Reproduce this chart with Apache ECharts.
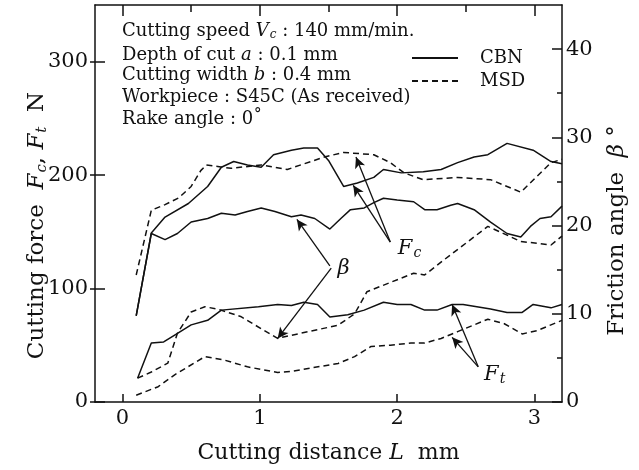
<!DOCTYPE html>
<html>
<head>
<meta charset="utf-8">
<script src="https://cdn.jsdelivr.net/npm/echarts@6/dist/echarts.min.js"></script>
<style>
  html, body { margin: 0; padding: 0; background: #fff; }
  #chart { width: 639px; height: 470px; }
</style>
</head>
<body>
<div id="chart"></div>
<script>
// [cutting distance L (mm), value]; forces in N, friction angle in degrees
const fcCbn = [[0.1, 76], [0.21, 149], [0.31, 163], [0.48, 175], [0.62, 190], [0.72, 207], [0.81, 212],
  [0.91, 209], [1.01, 207], [1.10, 218], [1.23, 222], [1.32, 224], [1.42, 224], [1.50, 213], [1.61, 190],
  [1.71, 193], [1.83, 198], [1.90, 205], [2.03, 202], [2.19, 203], [2.32, 205], [2.44, 211], [2.56, 216],
  [2.66, 218], [2.80, 228], [2.99, 222], [3.12, 212], [3.2, 210]];
const fcMsd = [[0.1, 112], [0.21, 169], [0.31, 174], [0.41, 180], [0.50, 190], [0.57, 204], [0.61, 209],
  [0.79, 206], [1.01, 209], [1.20, 205], [1.47, 216], [1.61, 220], [1.83, 218], [1.95, 211], [2.05, 202],
  [2.19, 196], [2.44, 198], [2.68, 196], [2.90, 185], [3.12, 211], [3.2, 214]];
const ftCbn = [[0.11, 21], [0.21, 52], [0.30, 53], [0.38, 59], [0.50, 68], [0.62, 72], [0.72, 81],
  [0.99, 84], [1.13, 86], [1.23, 85], [1.32, 88], [1.42, 86], [1.51, 75], [1.64, 77], [1.76, 81],
  [1.90, 88], [2.00, 86], [2.10, 86], [2.20, 81], [2.29, 81], [2.40, 86], [2.48, 86], [2.68, 82],
  [2.80, 79], [2.91, 79], [2.99, 86], [3.12, 83], [3.2, 86]];
const ftMsd = [[0.1, 6], [0.26, 13.5], [0.38, 24], [0.60, 40], [0.74, 37], [0.91, 31], [1.13, 26],
  [1.23, 27], [1.57, 34], [1.69, 40], [1.81, 49], [1.95, 50], [2.10, 52], [2.20, 52], [2.32, 56],
  [2.44, 62], [2.66, 73], [2.78, 69], [2.91, 60], [3.02, 63], [3.12, 68], [3.2, 72]];
const betaCbn = [[0.1, 9.8], [0.21, 19.1], [0.31, 18.4], [0.40, 19.1], [0.50, 20.4], [0.62, 20.8],
  [0.72, 21.4], [0.82, 21.2], [0.91, 21.6], [1.01, 22.0], [1.11, 21.6], [1.23, 21.0], [1.30, 21.2],
  [1.40, 20.8], [1.51, 19.6], [1.59, 20.8], [1.66, 21.8], [1.76, 22.0], [1.83, 22.6], [1.90, 23.1],
  [2.00, 22.9], [2.12, 22.7], [2.20, 21.8], [2.29, 21.8], [2.39, 22.3], [2.44, 22.5], [2.56, 21.8],
  [2.68, 20.4], [2.80, 19.1], [2.90, 18.7], [2.97, 19.9], [3.04, 20.8], [3.12, 21.0], [3.2, 22.2]];
const betaMsd = [[0.11, 2.7], [0.21, 3.4], [0.33, 4.4], [0.40, 7.8], [0.50, 10.2], [0.60, 10.8],
  [0.70, 10.5], [0.86, 9.7], [1.13, 7.2], [1.18, 7.4], [1.57, 8.7], [1.69, 10.0], [1.78, 12.5],
  [2.12, 14.6], [2.20, 14.4], [2.34, 16.1], [2.66, 19.9], [2.90, 18.2], [3.12, 17.8], [3.2, 18.8]];

const xTicks = [0, 1, 2, 3];
const xHalfTicks = [0, 0.5, 1, 1.5, 2, 2.5, 3];
const forceTicks = [0, 100, 200, 300];
const angleTicks = [0, 10, 20, 30, 40];
const angleMinorTicks = [5, 15, 25, 35];

// annotation arrows, in [L, force] coordinates: [from, to]
const fcArrows = [[[1.95, 141], [1.70, 216]], [[1.95, 141], [1.68, 191]]];
const betaArrows = [[[1.51, 120], [1.27, 161]], [[1.52, 118], [1.13, 56]]];
const ftArrows = [[[2.59, 31], [2.40, 86]], [[2.59, 31], [2.40, 57]]];
const labelSpots = [['fc', 2.09, 135], ['beta', 1.61, 118], ['ft', 2.71, 24]];

const infoLines = [
  '{n|Cutting speed }{i|V}{s|c}{n| : 140 mm/min.}',
  '{n|Depth of cut }{i|a}{n| : 0.1 mm}',
  '{n|Cutting width }{i|b}{n| : 0.4 mm}',
  '{n|Workpiece : S45C (As received)}',
  '{n|Rake angle : 0˚}',
];
const infoTops = [21, 46, 66, 88, 110];

const serif = '"DejaVu Serif", "Liberation Serif", serif';
const ink = '#111';

function richSized(size) {
  return {
    n: { fontFamily: serif, color: ink, fontSize: size },
    i: { fontFamily: serif, fontStyle: 'italic', color: ink, fontSize: size },
    s: { fontFamily: serif, fontStyle: 'italic', color: ink, fontSize: Math.round(size * 0.65),
         verticalAlign: 'bottom', padding: [Math.round(size * 0.45), 0, 0, 1] },
  };
}

function curve(name, data, dashed, yAxisIndex) {
  return {
    name,
    type: 'line',
    data,
    yAxisIndex,
    symbol: 'none',
    silent: true,
    itemStyle: { color: ink },
    lineStyle: { color: ink, width: 1.5, type: dashed ? [6, 4] : 'solid' },
  };
}

const arrowLines = [...fcArrows, ...betaArrows, ...ftArrows].map(([a, b]) => [{ coord: a }, { coord: b }]);

const labelText = {
  fc: '{i|F}{s|c}',
  beta: '{i|β}',
  ft: '{i|F}{s|t}',
};

const chart = echarts.init(document.getElementById('chart'), null, { renderer: 'canvas' });

const axisLine = { show: true, onZero: false, lineStyle: { color: ink, width: 1.5 } };
const noLine = { show: false, onZero: false };
const tickStyle = { color: ink, width: 1.5 };
const tickFont = { fontFamily: serif, fontSize: 21, color: ink };

chart.setOption({
  animation: false,
  backgroundColor: '#fff',
  grid: { left: 95, right: 77, top: 5, bottom: 68 },
  legend: {
    data: ['CBN', 'MSD'],
    orient: 'vertical',
    left: 411,
    top: 49,
    itemWidth: 46,
    itemHeight: 12,
    itemGap: 5,
    padding: 0,
    selectedMode: false,
    itemStyle: { opacity: 0 },
    textStyle: { fontFamily: serif, fontSize: 18, color: ink, padding: [0, 0, 0, 17] },
  },
  xAxis: [
    {
      type: 'value', min: -0.2, max: 3.2, position: 'bottom',
      axisLine,
      axisTick: { inside: true, length: 8, customValues: xTicks, lineStyle: tickStyle },
      axisLabel: { customValues: xTicks, ...tickFont, margin: 6 },
      splitLine: { show: false },
      name: '{n|Cutting distance }{i|L}{n|  mm}',
      nameLocation: 'middle',
      nameGap: 40,
      nameTextStyle: { rich: richSized(22) },
    },
    {
      type: 'value', min: -0.2, max: 3.2, position: 'top',
      axisLine,
      axisTick: { inside: true, length: 7, customValues: xHalfTicks, lineStyle: tickStyle },
      axisLabel: { show: false },
      splitLine: { show: false },
    },
    {
      type: 'value', min: -0.2, max: 3.2, position: 'top',
      axisLine: noLine,
      axisTick: { inside: true, length: 11, customValues: xTicks, lineStyle: tickStyle },
      axisLabel: { show: false },
      splitLine: { show: false },
    },
  ],
  yAxis: [
    {
      type: 'value', min: 0, max: 350, position: 'left',
      axisLine,
      axisTick: { show: true, inside: false, length: 5, customValues: forceTicks, lineStyle: tickStyle },
      axisLabel: { customValues: forceTicks, ...tickFont, margin: 7 },
      splitLine: { show: false },
      name: '{n|Cutting force  }{i|F}{s|c}{n|, }{i|F}{s|t}{n|  N}',
      nameLocation: 'middle',
      nameRotate: 90,
      nameGap: 45,
      nameMoveOverlap: false,
      nameTextStyle: { rich: richSized(23), padding: [0, 44, 0, 0] },
    },
    {
      type: 'value', min: 0, max: 45, position: 'right',
      axisLine,
      axisTick: { show: true, inside: true, length: 10, customValues: angleTicks, lineStyle: tickStyle },
      axisLabel: { customValues: angleTicks, ...tickFont, margin: 4 },
      splitLine: { show: false },
      name: '{n|Friction angle  }{i|β}{n| °}',
      nameLocation: 'middle',
      nameRotate: 90,
      nameGap: 44,
      nameTextStyle: { rich: richSized(23), padding: [0, 54, 0, 0] },
    },
    {
      type: 'value', min: 0, max: 350, position: 'left',
      axisLine: noLine,
      axisTick: { show: true, inside: true, length: 10, customValues: forceTicks, lineStyle: tickStyle },
      axisLabel: { show: false },
      splitLine: { show: false },
    },
    {
      type: 'value', min: 0, max: 45, position: 'right',
      axisLine: noLine,
      axisTick: { show: true, inside: true, length: 5, customValues: angleMinorTicks, lineStyle: tickStyle },
      axisLabel: { show: false },
      splitLine: { show: false },
    },
  ],
  series: [
    curve('Fc CBN', fcCbn, false, 0),
    curve('Fc MSD', fcMsd, true, 0),
    curve('Ft CBN', ftCbn, false, 0),
    curve('Ft MSD', ftMsd, true, 0),
    curve('beta CBN', betaCbn, false, 1),
    curve('beta MSD', betaMsd, true, 1),
    // legend entries only
    curve('CBN', [], false, 0),
    curve('MSD', [], true, 0),
    {
      name: 'notes',
      type: 'line',
      data: [],
      silent: true,
      markLine: {
        silent: true,
        animation: false,
        symbol: ['none', 'arrow'],
        symbolSize: [8, 11],
        lineStyle: { color: ink, width: 1.3, type: 'solid' },
        label: { show: false },
        data: arrowLines,
      },
      markPoint: {
        silent: true,
        symbol: 'circle',
        symbolSize: 1,
        itemStyle: { color: 'rgba(0,0,0,0)' },
        label: {
          show: true,
          position: 'inside',
          formatter: (p) => labelText[p.name],
          rich: richSized(21),
        },
        data: labelSpots.map(([name, x, y]) => ({ name, coord: [x, y] })),
      },
    },
  ],
  graphic: infoLines.map((text, k) => ({
    type: 'text',
    x: 122,
    y: infoTops[k],
    silent: true,
    style: { text, rich: richSized(18), fill: ink, verticalAlign: 'top' },
  })),
});
</script>
</body>
</html>
